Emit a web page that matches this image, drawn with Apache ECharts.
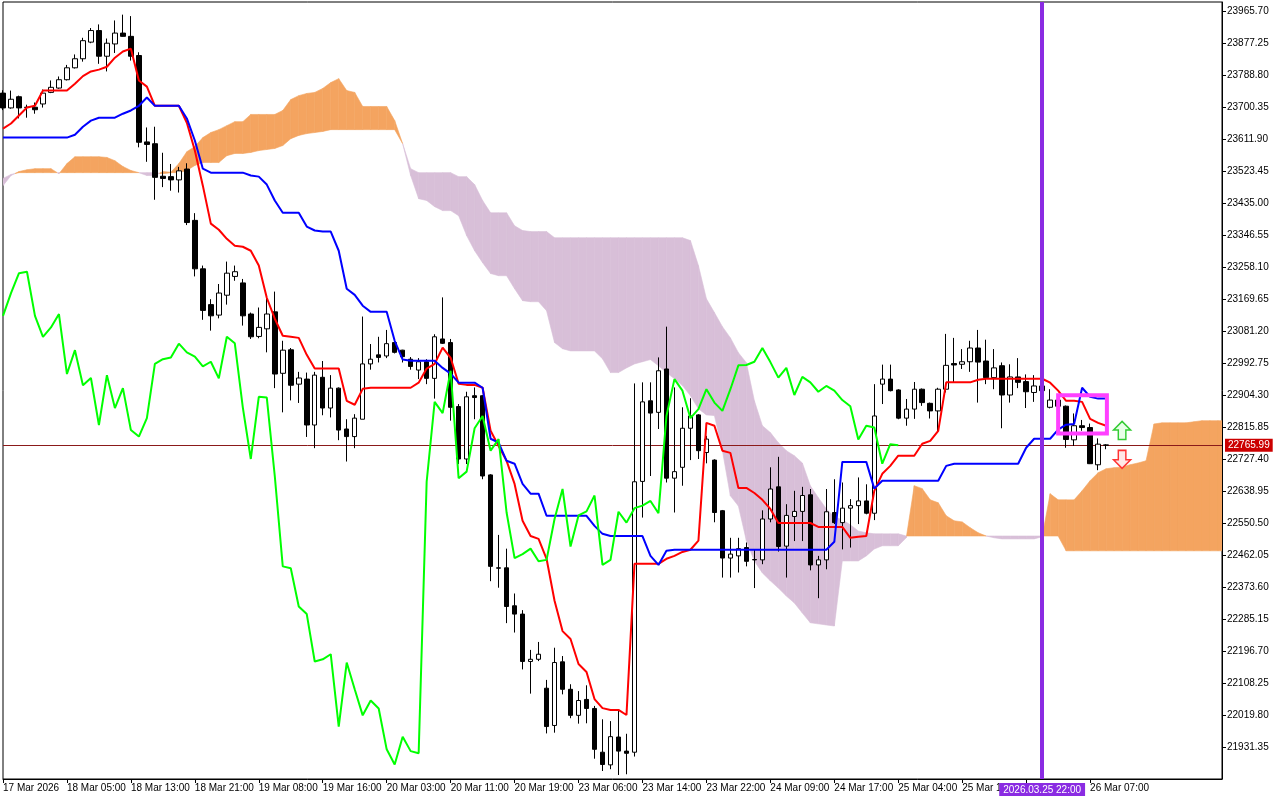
<!DOCTYPE html>
<html><head><meta charset="utf-8">
<script src="https://cdn.jsdelivr.net/npm/echarts@6/dist/echarts.min.js"></script>
<style>html,body{margin:0;padding:0;background:#fff}#c{width:1280px;height:800px}</style>
</head><body><div id="c"></div>
<script>
// ---- tick labels ----
const timeLabels = ['17 Mar 2026','18 Mar 05:00','18 Mar 13:00','18 Mar 21:00','19 Mar 08:00','19 Mar 16:00',
  '20 Mar 03:00','20 Mar 11:00','20 Mar 19:00','23 Mar 06:00','23 Mar 14:00','23 Mar 22:00','24 Mar 09:00',
  '24 Mar 17:00','25 Mar 04:00','25 Mar 12:00','25 Mar 20:00','26 Mar 07:00'];
const barsPerLabel = 8;
const priceTicks = [21931.35,22019.80,22108.25,22196.70,22285.15,22373.60,22462.05,22550.50,22638.95,22727.40,
  22815.85,22904.30,22992.75,23081.20,23169.65,23258.10,23346.55,23435.00,23523.45,23611.90,23700.35,23788.80,
  23877.25,23965.70];

// ---- candles (H1 bars, index 0..138) ----
const opens = [23740,23699,23730,23700,23701,23710,23742,23754,23777,23810,
 23835,23881,23913,23842,23876,23906,23897,23844,23605,23600,
 23510,23509,23500,23530,23388,23254,23155,23126,23181,23233,
 23215,23129,23067,23088,23135,22965,23030,22935,22949,22822,
 22954,22869,22924,22811,22790,22838,22991,23016,23013,23050,
 23029,23004,22974,22997,22951,23060,23050,22873,22728,22903,
 22903,22684,22427,22427,22322,22299,22168,22174,22094,21991,
 22167,22091,22019,22063,22038,21917,21882,21959,21920,21917,
 22666,22889,22857,22977,22675,22705,22813,22850,22746,22725,
 22585,22454,22460,22483,22450,22449,22562,22651,22487,22569,
 22583,22629,22435,22449,22580,22552,22592,22599,22612,22578,
 22935,22949,22919,22841,22866,22921,22882,22861,22921,22992,
 22990,22997,23035,22999,22953,22986,22905,22955,22942,22912,
 22930,22871,22891,22874,22781,22820,22815,22712,22767];
const highs = [23748,23747,23733,23708,23714,23750,23775,23786,23818,23847,
 23893,23920,23930,23891,23941,23957,23953,23853,23645,23647,
 23575,23544,23536,23546,23408,23263,23170,23212,23274,23263,
 23226,23133,23147,23173,23191,23055,23035,22969,22967,22969,
 22999,22960,22926,22838,22852,23122,23046,23066,23085,23052,
 23030,23010,23007,23004,23073,23175,23060,22880,22914,22926,
 22905,22686,22518,22480,22356,22310,22200,22222,22117,22206,
 22183,22105,22086,22102,22045,22008,22003,22031,21968,22937,
 22940,22940,23009,23094,22926,22871,22896,22852,22792,22727,
 22587,22510,22510,22497,22479,22586,22705,22734,22603,22640,
 22651,22645,22460,22645,22672,22663,22617,22677,22658,22935,
 22989,22989,22921,22894,22941,22923,22884,22925,23074,23063,
 23032,23055,23085,23058,23032,22995,22990,23007,22962,22960,
 22945,22921,22895,22876,22854,22836,22826,22785,22769];
const lows = [23693,23697,23670,23672,23683,23700,23740,23752,23775,23808,
 23827,23878,23821,23800,23851,23896,23830,23590,23550,23445,
 23480,23470,23465,23375,23233,23113,23083,23117,23155,23221,
 23097,23060,23062,23023,22924,22857,22890,22883,22789,22758,
 22849,22843,22780,22721,22758,22838,22975,22995,23007,23020,
 22995,22975,22949,22935,22895,23046,22834,22714,22714,22838,
 22672,22390,22372,22274,22248,22146,22079,22169,21969,21971,
 22077,22011,21996,21997,21899,21865,21870,21854,21856,21905,
 22566,22681,22811,22663,22580,22654,22725,22728,22716,22553,
 22400,22400,22414,22431,22371,22437,22553,22472,22400,22501,
 22501,22420,22343,22423,22548,22478,22483,22548,22575,22559,
 22880,22915,22838,22820,22839,22875,22840,22805,22912,22940,
 22977,22969,22884,22935,22921,22813,22884,22924,22869,22886,
 22905,22868,22865,22759,22764,22806,22714,22697,22755];
const closes = [23699,23723,23699,23701,23694,23740,23756,23777,23810,23835,
 23885,23913,23842,23878,23906,23897,23842,23604,23598,23507,
 23504,23500,23525,23382,23254,23139,23124,23187,23242,23246,
 23124,23066,23092,23129,22963,23029,22932,22952,22822,22960,
 22869,22924,22808,22790,22841,22991,23004,23009,23047,23023,
 23011,22984,22997,22951,23066,23048,22871,22728,22900,22898,
 22681,22431,22426,22320,22299,22168,22174,22188,21988,22165,
 22091,22019,22060,22038,21925,21883,21960,21920,21914,22665,
 22886,22855,22972,22675,22693,22813,22847,22751,22783,22580,
 22454,22465,22480,22445,22449,22562,22645,22486,22572,22583,
 22627,22435,22449,22582,22552,22592,22599,22612,22578,22847,
 22949,22917,22841,22866,22921,22884,22861,22921,22987,22988,
 22997,23035,22996,22953,22980,22905,22955,22940,22914,22930,
 22917,22891,22874,22782,22820,22815,22715,22769,22765.99];

// ---- Ichimoku lines ----
const tenkan = [23642,23656,23678,23700,23705,23747,23747,23747,23747,23766,
 23787,23800,23805,23813,23838,23855,23863,23775,23758,23705,
 23705,23705,23705,23658,23581,23484,23379,23362,23337,23318,
 23315,23304,23263,23174,23116,23069,23066,23063,23016,22978,
 22978,22978,22978,22889,22878,22922,22925,22925,22925,22925,
 22925,22925,22939,22978,22991,23036,23008,22936,22933,22933,
 22925,22806,22764,22723,22659,22557,22515,22507,22452,22336,
 22252,22230,22161,22139,22064,22039,22034,22034,22020,22438,
 22438,22438,22438,22452,22460,22471,22477,22502,22828,22820,
 22751,22745,22648,22648,22634,22615,22590,22551,22551,22551,
 22551,22551,22540,22540,22540,22540,22510,22513,22515,22640,
 22687,22709,22737,22737,22737,22770,22778,22806,22940,22940,
 22940,22940,22947,22950,22950,22950,22950,22950,22950,22950,
 22950,22939,22917,22889,22889,22886,22839,22828,22820];
const kijun = [23617,23617,23617,23617,23617,23617,23617,23617,23617,23625,
 23647,23664,23672,23672,23672,23683,23692,23705,23728,23705,
 23705,23705,23705,23670,23609,23531,23520,23520,23520,23520,
 23520,23512,23509,23487,23443,23409,23409,23409,23371,23360,
 23357,23357,23304,23199,23182,23152,23135,23135,23135,23055,
 23003,23000,23000,23000,23000,22980,22964,22939,22939,22939,
 22925,22784,22773,22723,22715,22659,22632,22632,22571,22571,
 22571,22571,22571,22571,22543,22521,22515,22515,22515,22515,
 22515,22460,22435,22474,22477,22477,22477,22477,22477,22477,
 22477,22477,22477,22477,22477,22477,22477,22477,22477,22477,
 22477,22477,22477,22477,22499,22720,22720,22720,22720,22646,
 22668,22668,22668,22668,22668,22668,22668,22668,22709,22715,
 22715,22715,22715,22715,22715,22715,22715,22715,22759,22784,
 22784,22784,22809,22823,22825,22925,22900,22895,22895];
// Chikou span (already drawn 26 bars back), bars 0..112
const chikou = [23124,23187,23242,23246,23124,23066,23092,23129,22963,23029,
 22932,22952,22822,22960,22869,22924,22808,22790,22841,22991,
 23004,23009,23047,23023,23011,22984,22997,22951,23066,23048,
 22871,22728,22900,22898,22681,22431,22426,22320,22299,22168,
 22174,22188,21988,22165,22091,22019,22060,22038,21925,21883,
 21960,21920,21914,22665,22886,22855,22972,22675,22693,22813,
 22847,22751,22783,22580,22454,22465,22480,22445,22449,22562,
 22645,22486,22572,22583,22627,22435,22449,22582,22552,22592,
 22599,22612,22578,22847,22949,22917,22841,22866,22921,22884,
 22861,22921,22987,22988,22997,23035,22996,22953,22980,22905,
 22955,22940,22914,22930,22917,22891,22874,22782,22820,22815,
 22715,22769,22766];
// Senkou spans (already shifted forward), bars 0..153
const spanA = [23484,23512,23523,23528,23531,23531,23531,23517,23545,23564,
 23564,23564,23564,23562,23553,23537,23526,23520,23512,23512,
 23523,23521,23545,23578,23592,23617,23631,23639,23650,23661,
 23661,23681,23681,23681,23681,23692,23722,23733,23739,23742,
 23753,23769,23780,23747,23742,23703,23703,23703,23703,23664,
 23600,23512,23448,23443,23426,23415,23415,23401,23346,23304,
 23271,23241,23235,23235,23199,23166,23163,23163,23138,23050,
 23033,23027,23027,23027,23027,23005,22967,22967,22980,22991,
 22997,23003,22986,22967,22950,22931,22903,22867,22850,22848,
 22751,22626,22598,22502,22446,22413,22391,22371,22349,22330,
 22302,22275,22272,22269,22266,22446,22446,22446,22460,22479,
 22488,22488,22488,22510,22654,22646,22615,22607,22571,22557,
 22554,22538,22524,22515,22510,22507,22507,22507,22507,22507,
 22513,22632,22615,22615,22615,22640,22668,22690,22701,22704,
 22706,22712,22717,22723,22825,22828,22828,22828,22828,22831,
 22834,22834,22834,22834];
const spanB = [23504,23515,23520,23520,23520,23520,23520,23520,23520,23520,
 23520,23520,23520,23520,23520,23520,23520,23520,23520,23520,
 23517,23520,23520,23526,23540,23548,23548,23548,23567,23573,
 23573,23576,23581,23584,23587,23595,23614,23623,23628,23631,
 23634,23639,23639,23639,23639,23639,23639,23639,23639,23639,
 23600,23531,23520,23520,23520,23520,23520,23509,23509,23487,
 23443,23409,23409,23409,23373,23360,23357,23357,23357,23340,
 23340,23340,23340,23340,23340,23340,23340,23340,23340,23340,
 23340,23340,23340,23340,23340,23340,23332,23263,23171,23133,
 23094,23063,23022,22994,22889,22820,22801,22773,22751,22737,
 22717,22654,22621,22590,22568,22560,22546,22529,22524,22521,
 22521,22521,22521,22515,22515,22515,22515,22515,22515,22515,
 22515,22515,22515,22515,22515,22515,22515,22515,22515,22515,
 22515,22515,22515,22474,22474,22474,22474,22474,22474,22474,
 22474,22474,22474,22474,22474,22474,22474,22474,22474,22474,
 22474,22474,22474,22474];

// ---- annotations ----
const lastPrice = 22765.99;
const markerBar = 130;
const markerLabel = '2026.03.25 22:00';
const boxFrom = [132, 22904];
const boxTo = [138.1, 22798.5];
const upArrowAt = [140, 22807];
const downArrowAt = [140, 22727];

const ORANGE = '#F4A460', THISTLE = '#D8BFD8';
const FONT = 'Liberation Sans';

const candleData = opens.map((o, i) => [i, o, closes[i], lows[i], highs[i]]);
const cloudData = [];
for (let k = 0; k < spanA.length - 1; k++) cloudData.push([k, spanA[k], spanB[k], spanA[k + 1], spanB[k + 1]]);
const labelBars = timeLabels.map((_, i) => i * barsPerLabel);

function cloudItem(params, api) {
  const k = api.value(0), a0 = api.value(1), b0 = api.value(2), a1 = api.value(3), b1 = api.value(4);
  const d0 = a0 - b0, d1 = a1 - b1;
  const pA0 = api.coord([k, a0]), pB0 = api.coord([k, b0]);
  const pA1 = api.coord([k + 1, a1]), pB1 = api.coord([k + 1, b1]);
  const col = d => (d >= 0 ? ORANGE : THISTLE);
  const children = [];
  if (d0 * d1 >= 0) {
    const c = (d0 + d1) >= 0 ? ORANGE : THISTLE;
    children.push({ type: 'polygon', shape: { points: [pA0, pA1, pB1, pB0] }, style: { fill: c, stroke: c, lineWidth: 0.6 } });
  } else {
    const t = d0 / (d0 - d1);
    const pm = api.coord([k + t, a0 + (a1 - a0) * t]);
    children.push({ type: 'polygon', shape: { points: [pA0, pm, pB0] }, style: { fill: col(d0), stroke: col(d0), lineWidth: 0.6 } });
    children.push({ type: 'polygon', shape: { points: [pm, pA1, pB1] }, style: { fill: col(d1), stroke: col(d1), lineWidth: 0.6 } });
  }
  return { type: 'group', children };
}

const chart = echarts.init(document.getElementById('c'), null, { renderer: 'canvas' });
chart.setOption({
  animation: false,
  backgroundColor: '#fff',
  grid: { left: 2, right: 58, top: 2, bottom: 21, show: true, borderColor: '#000', borderWidth: 1, backgroundColor: '#fff' },
  xAxis: {
    type: 'value', min: 0, max: 152.5,
    axisLine: { show: true, onZero: false, lineStyle: { color: '#000', width: 1 } },
    axisTick: { show: true, length: 4, customValues: labelBars, lineStyle: { color: '#000' } },
    axisLabel: { customValues: labelBars, formatter: v => timeLabels[Math.round(v / barsPerLabel)] || '',
      align: 'left', margin: 4, color: '#000', fontSize: 10, fontFamily: FONT },
    splitLine: { show: false }
  },
  yAxis: {
    type: 'value', position: 'right', min: 21842.90, max: 23992,
    axisLine: { show: true, onZero: false, lineStyle: { color: '#000', width: 1 } },
    axisTick: { show: true, length: 4, customValues: priceTicks, lineStyle: { color: '#000' } },
    axisLabel: { customValues: priceTicks, formatter: v => v.toFixed(2), margin: 5, color: '#000', fontSize: 10, fontFamily: FONT },
    splitLine: { show: false }
  },
  series: [
    { type: 'custom', name: 'cloud', renderItem: cloudItem, data: cloudData, clip: true, z: 1, silent: true,
      encode: { x: 0, y: [1, 2, 3, 4] } },
    { type: 'candlestick', name: 'price', data: candleData, barWidth: 5, z: 3, clip: true,
      itemStyle: { color: '#fff', color0: '#000', borderColor: '#000', borderColor0: '#000', borderColorDoji: '#000', borderWidth: 1 },
      markLine: { symbol: ['none', 'none'], silent: true, animation: false, z: 2,
        data: [{ yAxis: lastPrice, lineStyle: { color: '#8B1A1A', width: 1, type: 'solid' },
          label: { show: true, position: 'end', distance: 3, formatter: lastPrice.toFixed(2), color: '#fff',
            backgroundColor: '#CC0000', padding: [2, 3, 1, 3], fontSize: 10, fontFamily: FONT } }] } },
    { type: 'line', name: 'tenkan', data: tenkan.map((v, i) => [i, v]), symbol: 'none', z: 4,
      lineStyle: { color: '#FF0000', width: 2 } },
    { type: 'line', name: 'kijun', data: kijun.map((v, i) => [i, v]), symbol: 'none', z: 4,
      lineStyle: { color: '#0000FF', width: 2 } },
    { type: 'line', name: 'chikou', data: chikou.map((v, i) => [i, v]), symbol: 'none', z: 5,
      lineStyle: { color: '#00FF00', width: 2 },
      markLine: { symbol: ['none', 'none'], silent: true, animation: false, z: 10,
        data: [{ xAxis: markerBar, lineStyle: { color: '#8A2BE2', width: 4, type: 'solid' },
          label: { show: true, position: 'start', distance: 4, formatter: markerLabel, color: '#fff',
            backgroundColor: '#8A2BE2', padding: [2, 4, 1, 4], fontSize: 10, fontFamily: FONT } }] },
      markArea: { silent: true, z: 10, itemStyle: { color: 'rgba(0,0,0,0)', borderColor: '#FF40FF', borderWidth: 4 },
        data: [[{ coord: boxFrom }, { coord: boxTo }]] },
      markPoint: { silent: true, animation: false, z: 10, label: { show: false },
        data: [
          { coord: upArrowAt, symbol: 'path://M9,0 L18,9 L13,9 L13,19 L5,19 L5,9 L0,9 Z', symbolSize: [17, 18],
            itemStyle: { color: '#E8FFE8', borderColor: '#33CC33', borderWidth: 1.5 } },
          { coord: downArrowAt, symbol: 'path://M5,0 L13,0 L13,10 L18,10 L9,19 L0,10 L5,10 Z', symbolSize: [17, 18],
            itemStyle: { color: '#FFE8E8', borderColor: '#FF3333', borderWidth: 1.5 } }
        ] } }
  ]
});
</script>
</body></html>
